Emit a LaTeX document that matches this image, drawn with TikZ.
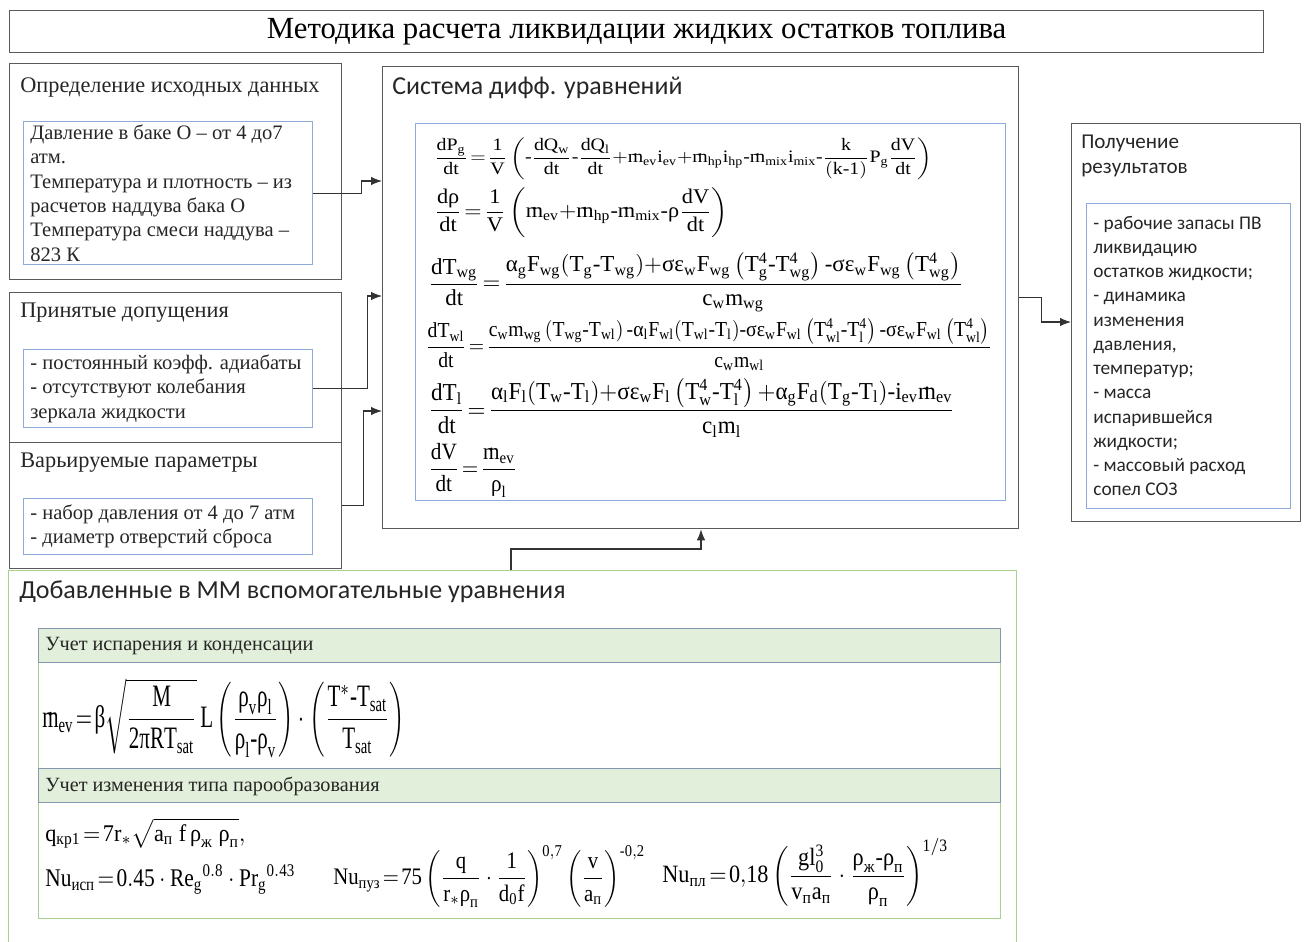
\documentclass[tikz,border=0pt]{standalone}
\usepackage{fontspec}
\usepackage{amsmath}
\usepackage{graphicx}
\setmainfont{Liberation Serif}
\newfontfamily\calibri{Carlito}
\usetikzlibrary{positioning,calc,arrows.meta}

\definecolor{boxgray}{HTML}{5A5A5A}
\definecolor{boxblue}{HTML}{8EAADB}
\definecolor{lightgreen}{HTML}{A9D18E}
\definecolor{headgreen}{HTML}{E2EFDA}
\definecolor{headblue}{HTML}{8497B0}

% upright greek letters from the text font
\newcommand\Gal{\text{α}}
\newcommand\Gsig{\text{σ}}
\newcommand\Geps{\text{ε}}
\newcommand\Grho{\text{ρ}}
\newcommand\Gbeta{\text{β}}
\newcommand\Gpi{\text{π}}
\newcommand\mdot{\text{\makebox[0pt][l]{\hspace{0.27em}\raisebox{0.4em}{.}}m}}
\newcommand\mn{\mathord{\text{-}}}
\newcommand\pl{\mathord{+}}
\newcommand\eqs{\mskip2mu{=}\mskip2mu}
\newcommand\eqbox[3]{\resizebox*{#1}{#2}{$\displaystyle\mathrm{#3}$}}

\begin{document}
\begin{tikzpicture}[x=0.02cm, y=-0.02cm,
    outer/.style={draw=boxgray, line width=0.75pt, anchor=north west, inner sep=0pt},
    inbox/.style={draw=boxblue, line width=0.6pt, anchor=north west, inner sep=0pt},
    head/.style={anchor=west, inner sep=0pt, text=black!85, font=\fontsize{12.7}{15}\selectfont},
    sanshead/.style={anchor=west, inner sep=0pt, text=black!85, align=left, font=\calibri\fontsize{14.8}{14.2}\selectfont},
    body/.style={anchor=west, inner sep=0pt, align=left, text=black!85, font=\fontsize{11.7}{13.9}\selectfont},
    sansbody/.style={anchor=west, inner sep=0pt, align=left, text=black!85, font=\calibri\fontsize{11}{13.8}\selectfont},
    eq/.style={anchor=north west, inner sep=0pt},
    conn/.style={draw=black!80, line width=0.6pt, -{Latex[length=2.2mm,width=1.7mm]}}
]
    \useasboundingbox (0,0) rectangle (1306,941);

    % Title
    \node [outer, minimum width=1254*0.02cm, minimum height=42*0.02cm, font=\fontsize{17.5}{20}\selectfont] (title) at (9,10) {Методика расчета ликвидации жидких остатков топлива};

    % Input blocks (left)
    \node [outer, minimum width=332*0.02cm, minimum height=216*0.02cm] (defin) at (9,63) {};
    \node [head] (definT) at (20,87) {Определение исходных данных};
    \node [inbox, minimum width=289*0.02cm, minimum height=143*0.02cm] (dataIn) at (23,121) {};
    \node [body] (dataTxt) at ($(dataIn.west)+(7,0)$) {Давление в баке О – от 4 до7\\атм.\\Температура и плотность – из\\расчетов наддува бака О\\Температура смеси наддува –\\823 К};

    \node [outer, minimum width=332*0.02cm, minimum height=150*0.02cm] (assum) at (9,292) {};
    \node [head] (assumT) at (20,313) {Принятые допущения};
    \node [inbox, minimum width=289*0.02cm, minimum height=78*0.02cm] (assumIn) at (23,349) {};
    \node [body] (assumTxt) at ($(assumIn.west)+(7,0)$) {- постоянный коэфф. адиабаты\\- отсутствуют колебания\\зеркала жидкости};

    \node [outer, minimum width=332*0.02cm, minimum height=126*0.02cm] (vari) at (9,442) {};
    \node [head] (variT) at (20,463) {Варьируемые параметры};
    \node [inbox, minimum width=289*0.02cm, minimum height=56*0.02cm] (variIn) at (23,498) {};
    \node [body] (variTxt) at ($(variIn.west)+(7,0)$) {- набор давления от 4 до 7 атм\\- диаметр отверстий сброса};

    % System of ODEs
    \node [outer, minimum width=636*0.02cm, minimum height=462*0.02cm] (sys) at (382,66) {};
    \node [sanshead, font=\calibri\fontsize{14.7}{14.2}\selectfont] (sysT) at (392,88) {Система дифф. уравнений};
    \node [inbox, minimum width=590*0.02cm, minimum height=377*0.02cm] (sysIn) at (415,123) {};

    \node [eq] (eqP) at (434,137) {\eqbox{9.96cm}{0.84cm}{\frac{dP_g}{dt}\eqs\frac{1}{V}\left(\mn\frac{dQ_w}{dt}\mn\frac{dQ_l}{dt}\pl\mdot_{ev}i_{ev}\pl\mdot_{hp}i_{hp}\mn\mdot_{mix}i_{mix}\mn\frac{k}{(k\mn1)}P_g\frac{dV}{dt}\right)}};
    \node [eq] (eqRho) at (434,187) {\eqbox{5.88cm}{1.0cm}{\frac{d\Grho}{dt}\eqs\frac{1}{V}\left(\mdot_{ev}\pl\mdot_{hp}\mn\mdot_{mix}\mn\Grho\frac{dV}{dt}\right)}};
    \node [eq] (eqTwg) at (428,252) {\eqbox{10.7cm}{1.2cm}{\frac{dT_{wg}}{dt}\eqs\frac{\Gal_g F_{wg}(T_g\mn T_{wg})\pl\Gsig\Geps_w F_{wg}\left(T_g^4\mn T_{wg}^4\right)\mn\Gsig\Geps_w F_{wg}\left(T_{wg}^4\right)}{c_w m_{wg}}}};
    \node [eq] (eqTwl) at (425,318) {\eqbox{11.34cm}{1.04cm}{\frac{dT_{wl}}{dt}\eqs\frac{c_w m_{wg}\left(T_{wg}\mn T_{wl}\right)\mn\Gal_l F_{wl}(T_{wl}\mn T_l)\mn\Gsig\Geps_w F_{wl}\left(T_{wl}^4\mn T_l^4\right)\mn\Gsig\Geps_w F_{wl}\left(T_{wl}^4\right)}{c_w m_{wl}}}};
    \node [eq] (eqTl) at (428,378) {\eqbox{10.54cm}{1.18cm}{\frac{dT_l}{dt}\eqs\frac{\Gal_l F_l(T_w\mn T_l)\pl\Gsig\Geps_w F_l\left(T_w^4\mn T_l^4\right)\pl\Gal_g F_d(T_g\mn T_l)\mn i_{ev}\mdot_{ev}}{c_l m_l}}};
    \node [eq] (eqV) at (428,443) {\eqbox{1.78cm}{1.08cm}{\frac{dV}{dt}\eqs\frac{\mdot_{ev}}{\Grho_l}}};

    % Results
    \node [outer, minimum width=229*0.02cm, minimum height=398*0.02cm] (res) at (1071,123) {};
    \node [sanshead, anchor=north west, font=\calibri\fontsize{12}{14.2}\selectfont] (resT) at (1081,135) {Получение\\результатов};
    \node [inbox, minimum width=204*0.02cm, minimum height=305*0.02cm] (resIn) at (1086,203) {};
    \node [sansbody] (resTxt) at ($(resIn.west)+(7,0)$) {- рабочие запасы ПВ\\ликвидацию\\остатков жидкости;\\- динамика\\изменения\\давления,\\температур;\\- масса\\испарившейся\\жидкости;\\- массовый расход\\сопел СОЗ};

    % Auxiliary equations
    \node [outer, draw=lightgreen, minimum width=1008*0.02cm, minimum height=375*0.02cm] (aux) at (8,570) {};
    \node [sanshead] (auxT) at (19,592) {Добавленные в ММ вспомогательные уравнения};

    \node [outer, draw=lightgreen, minimum width=962*0.02cm, minimum height=106*0.02cm] (evapB) at (38,662) {};
    \node [outer, draw=lightgreen, minimum width=962*0.02cm, minimum height=116*0.02cm] (boilB) at (38,802) {};
    \node [outer, draw=headblue, fill=headgreen, minimum width=962*0.02cm, minimum height=34*0.02cm] (evapH) at (38,628) {};
    \node [head, font=\fontsize{11.5}{13}\selectfont] (evapT) at (45,646) {Учет испарения и конденсации};
    \node [outer, draw=headblue, fill=headgreen, minimum width=962*0.02cm, minimum height=34*0.02cm] (boilH) at (38,768) {};
    \node [head, font=\fontsize{11.5}{13}\selectfont] (boilT) at (45,786) {Учет изменения типа парообразования};

    \node [eq] (eqEv) at (42,678) {\eqbox{7.26cm}{1.58cm}{\mdot_{ev}\eqs\Gbeta\sqrt{\frac{M}{2\Gpi RT_{sat}}}\,L\left(\frac{\Grho_v\Grho_l}{\Grho_l\mn\Grho_v}\right)\cdot\left(\frac{T^*\mn T_{sat}}{T_{sat}}\right)}};
    \node [eq] (eqQ) at (45,818) {\eqbox{4cm}{0.6cm}{q_{\text{кр1}}\eqs7r_*\sqrt{a_{\text{п}}\ f\,\Grho_{\text{ж}}\ \Grho_{\text{п}}},}};
    \node [eq] (eqNu1) at (45,864) {\eqbox{5cm}{0.6cm}{Nu_{\text{исп}}\eqs0.45\cdot Re_g{}^{0.8}\cdot Pr_g{}^{0.43}}};
    \node [eq] (eqNu2) at (333,845) {\eqbox{6.24cm}{1.24cm}{Nu_{\text{пуз}}\eqs75\left(\frac{q}{r_*\Grho_{\text{п}}}\cdot\frac{1}{d_0f}\right)^{0{,}7}\left(\frac{v}{a_{\text{п}}}\right)^{\mn0{,}2}}};
    \node [eq] (eqNu3) at (662,838) {\eqbox{5.72cm}{1.36cm}{Nu_{\text{пл}}\eqs0{,}18\left(\frac{gl_0^3}{v_{\text{п}}a_{\text{п}}}\cdot\frac{\Grho_{\text{ж}}\mn\Grho_{\text{п}}}{\Grho_{\text{п}}}\right)^{1/3}}};

    % Connectors
    \foreach \src/\dx/\dy in {dataIn/48/115, assumIn/54/230, vari/21/345}
        \draw [conn] (\src.east) -- ++(\dx,0) |- ($(sys.north west)+(0,\dy)$);
    \draw [conn] (sys.east) -- ++(22,0) |- ($(res.north west)+(0,199)$);
    \draw [conn] ($(aux.north west)+(503,0)$) -- ++(0,-21) -| ($(sys.south west)+(319,0)$);
\end{tikzpicture}
\end{document}
